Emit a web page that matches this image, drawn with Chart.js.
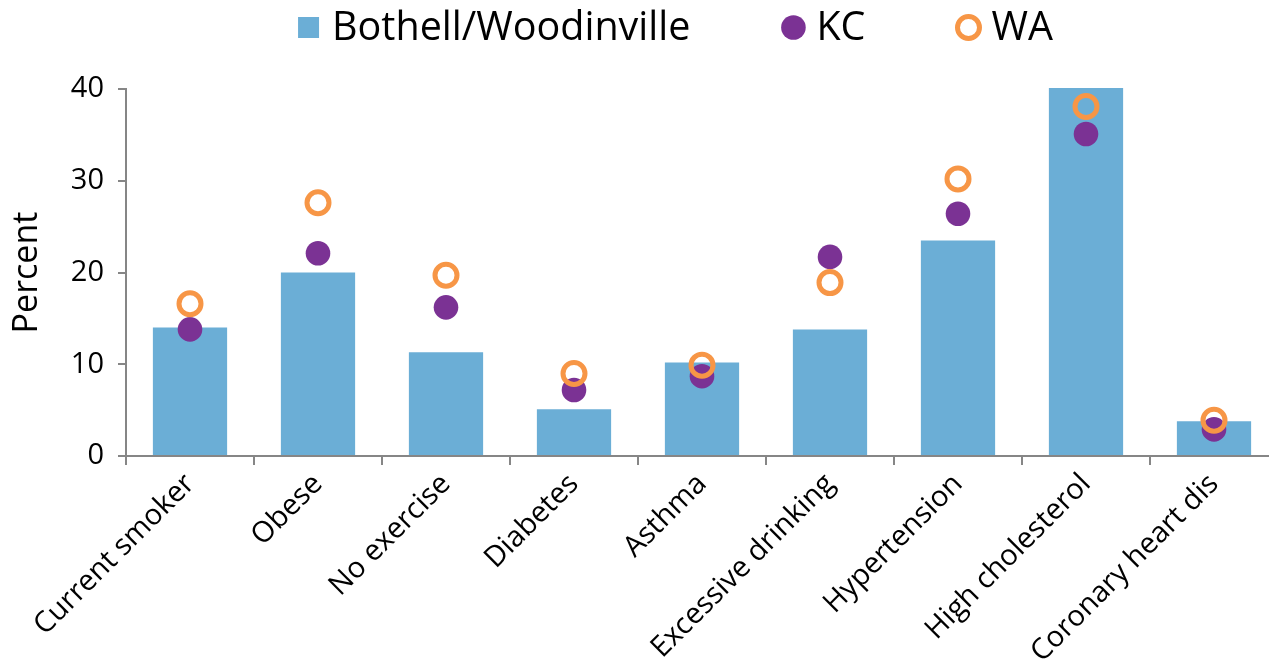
<!DOCTYPE html>
<html>
<head>
<meta charset="utf-8">
<script src="https://cdn.jsdelivr.net/npm/chart.js@4.4.0/dist/chart.umd.min.js"></script>
<style>
  html, body { margin: 0; padding: 0; overflow: hidden; background: #fff; }
  #wrap { width: 1350px; height: 662px; position: relative; }
</style>
</head>
<body>
<div id="wrap"><canvas id="healthChart"></canvas></div>
<script>
// datos
const categories = ["Current smoker", "Obese", "No exercise", "Diabetes", "Asthma",
                    "Excessive drinking", "Hypertension", "High cholesterol", "Coronary heart dis"];
const bothellValues = [14.0, 20.0, 11.3, 5.1, 10.2, 13.8, 23.5, 40.1, 3.8];
const kcValues      = [13.8, 22.1, 16.2, 7.2, 8.7, 21.7, 26.4, 35.1, 2.9];
const waValues      = [16.6, 27.6, 19.7, 9.0, 9.9, 18.9, 30.2, 38.1, 3.9];
const yTicks = [0, 10, 20, 30, 40];

const FONT = "'Open Sans', 'DejaVu Sans', sans-serif";
const AXIS = "#868686";

// leyenda dibujada arriba, centrada en el lienzo
const topLegend = {
    id: "topLegend",
    afterDraw(chart) {
        const ctx = chart.ctx;
        const items = chart.data.datasets;
        const marker = 24, gapText = 11, gapItem = 91, baseY = 40, cy = 27.5;
        ctx.save();
        ctx.font = "39.5px " + FONT;
        let total = gapItem * (items.length - 1);
        items.forEach(d => { total += marker + gapText + ctx.measureText(d.label).width; });
        let x = chart.width / 2 - total / 2;
        items.forEach(d => {
            if (d.type === "line") {
                ctx.beginPath();
                if (d.pointBorderWidth) {
                    ctx.arc(x + marker / 2, cy, 11, 0, Math.PI * 2);
                    ctx.lineWidth = d.pointBorderWidth;
                    ctx.strokeStyle = d.pointBorderColor;
                    ctx.stroke();
                } else {
                    ctx.arc(x + marker / 2, cy, 12.3, 0, Math.PI * 2);
                    ctx.fillStyle = d.pointBackgroundColor;
                    ctx.fill();
                }
            } else {
                ctx.fillStyle = d.backgroundColor;
                ctx.fillRect(x + 1, cy - 10.5, 21, 21);
            }
            x += marker + gapText;
            ctx.fillStyle = "#000";
            ctx.textBaseline = "alphabetic";
            ctx.fillText(d.label, x, baseY);
            x += ctx.measureText(d.label).width + gapItem;
        });
        ctx.restore();
    }
};

new Chart(document.getElementById("healthChart").getContext("2d"), {
    type: "bar",
    data: {
        labels: categories,
        datasets: [
            { type: "bar", label: "Bothell/Woodinville", data: bothellValues, backgroundColor: "#6BAED6",
              barPercentage: 0.58, categoryPercentage: 1, order: 2, clip: false },
            { type: "line", label: "KC", data: kcValues, showLine: false, pointRadius: 12.3, pointHoverRadius: 12.3,
              pointBackgroundColor: "#7B3294", pointBorderWidth: 0, pointBorderColor: "#7B3294", order: 1, clip: false },
            { type: "line", label: "WA", data: waValues, showLine: false, pointRadius: 11, pointHoverRadius: 11,
              pointBackgroundColor: "rgba(0,0,0,0)", pointBorderColor: "#F79646", pointBorderWidth: 5, order: 0, clip: false }
        ]
    },
    options: {
        responsive: true,
        maintainAspectRatio: false,
        animation: false,
        layout: { padding: { top: 89, right: 72, left: 0, bottom: 0 } },
        plugins: { legend: { display: false }, tooltip: { enabled: false } },
        scales: {
            x: {
                grid: { offset: true, drawOnChartArea: false, drawTicks: true, tickLength: 9, color: AXIS, lineWidth: 2 },
                border: { color: AXIS, width: 2 },
                ticks: { color: "#000", font: { family: FONT, size: 29 }, minRotation: 45, maxRotation: 45, autoSkip: false, padding: 2 },
                afterFit(s) { s.height = 206; }
            },
            y: {
                min: 0, max: 40,
                afterBuildTicks(s) { s.ticks = yTicks.map(v => ({ value: v })); },
                grid: { drawOnChartArea: false, drawTicks: true, tickLength: 8, color: AXIS, lineWidth: 2 },
                border: { color: AXIS, width: 2 },
                ticks: { color: "#000", font: { family: FONT, size: 29 }, padding: 14 },
                title: { display: true, text: "Percent", color: "#000", font: { family: FONT, size: 34 }, padding: { top: 7, bottom: 0 } },
                afterFit(s) { s.width = 126; }
            }
        }
    },
    plugins: [topLegend]
});
</script>
</body>
</html>
